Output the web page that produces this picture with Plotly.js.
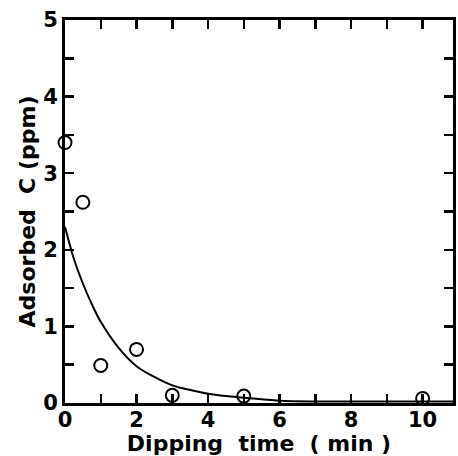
<!DOCTYPE html>
<html>
<head>
<meta charset="utf-8">
<script src="https://cdn.plot.ly/plotly-3.0.1.min.js"></script>
<style>html,body{margin:0;padding:0;background:#fff;}#chart{width:458px;height:456px;}</style>
</head>
<body>
<div id="chart"></div>
<script>
// measured points
const timeMin = [0, 0.5, 1, 2, 3, 5, 10];
const adsorbedC = [3.4, 2.62, 0.49, 0.7, 0.1, 0.09, 0.06];
// fitted curve
const curveX = [0, 0.25, 0.5, 0.75, 1, 1.5, 2, 2.5, 3, 3.5, 4, 4.5, 5, 5.5, 6, 7, 8, 9, 10, 11];
const curveY = [2.3, 1.88, 1.56, 1.29, 1.06, 0.72, 0.48, 0.34, 0.23, 0.17, 0.12, 0.09, 0.07, 0.05, 0.03, 0.02, 0.02, 0.02, 0.02, 0.02];
const xTickVals = [0,1,2,3,4,5,6,7,8,9,10];
const xTickText = ["0","","2","","4","","6","","8","","10"];
const yTickVals = [0,0.5,1,1.5,2,2.5,3,3.5,4,4.5,5];
const yTickText = ["0","","1","","2","","3","","4","","5"];

const fontFam = "DejaVu Sans, sans-serif";
const traces = [
  {x: curveX, y: curveY, mode: 'lines', line: {color: '#000', width: 2, shape: 'spline'}, cliponaxis: true, showlegend: false},
  {x: timeMin, y: adsorbedC, mode: 'markers', marker: {symbol: 'circle-open', size: 13, color: '#000', line: {width: 2, color: '#000'}}, cliponaxis: false, showlegend: false}
];
const layout = {
  width: 458, height: 456,
  margin: {l: 65, r: 5, t: 20, b: 53},
  paper_bgcolor: '#fff', plot_bgcolor: '#fff',
  font: {family: fontFam, color: '#000', size: 20, weight: 'bold'},
  xaxis: {
    range: [0, 10.85], tickvals: xTickVals, ticktext: xTickText,
    ticks: 'inside', ticklen: 9, tickwidth: 2.5, tickcolor: '#000',
    showline: true, linewidth: 3, linecolor: '#000', mirror: 'ticks',
    showgrid: false, zeroline: false, automargin: false,
    ticklabelstandoff: -4,
    tickfont: {family: fontFam, size: 21, weight: 'bold'},
    title: {text: 'Dipping  time  ( min )', font: {family: fontFam, size: 22, weight: 'bold'}, standoff: 0}
  },
  yaxis: {
    range: [0, 5], tickvals: yTickVals, ticktext: yTickText,
    ticks: 'inside', ticklen: 9, tickwidth: 2.5, tickcolor: '#000',
    showline: true, linewidth: 3, linecolor: '#000', mirror: 'ticks',
    showgrid: false, zeroline: false, automargin: false,
    tickfont: {family: fontFam, size: 21, weight: 'bold'},
    title: {text: 'Adsorbed  C (ppm)', font: {family: fontFam, size: 22, weight: 'bold'}, standoff: 2}
  }
};
Plotly.newPlot('chart', traces, layout, {displayModeBar: false, staticPlot: true});
</script>
</body>
</html>
